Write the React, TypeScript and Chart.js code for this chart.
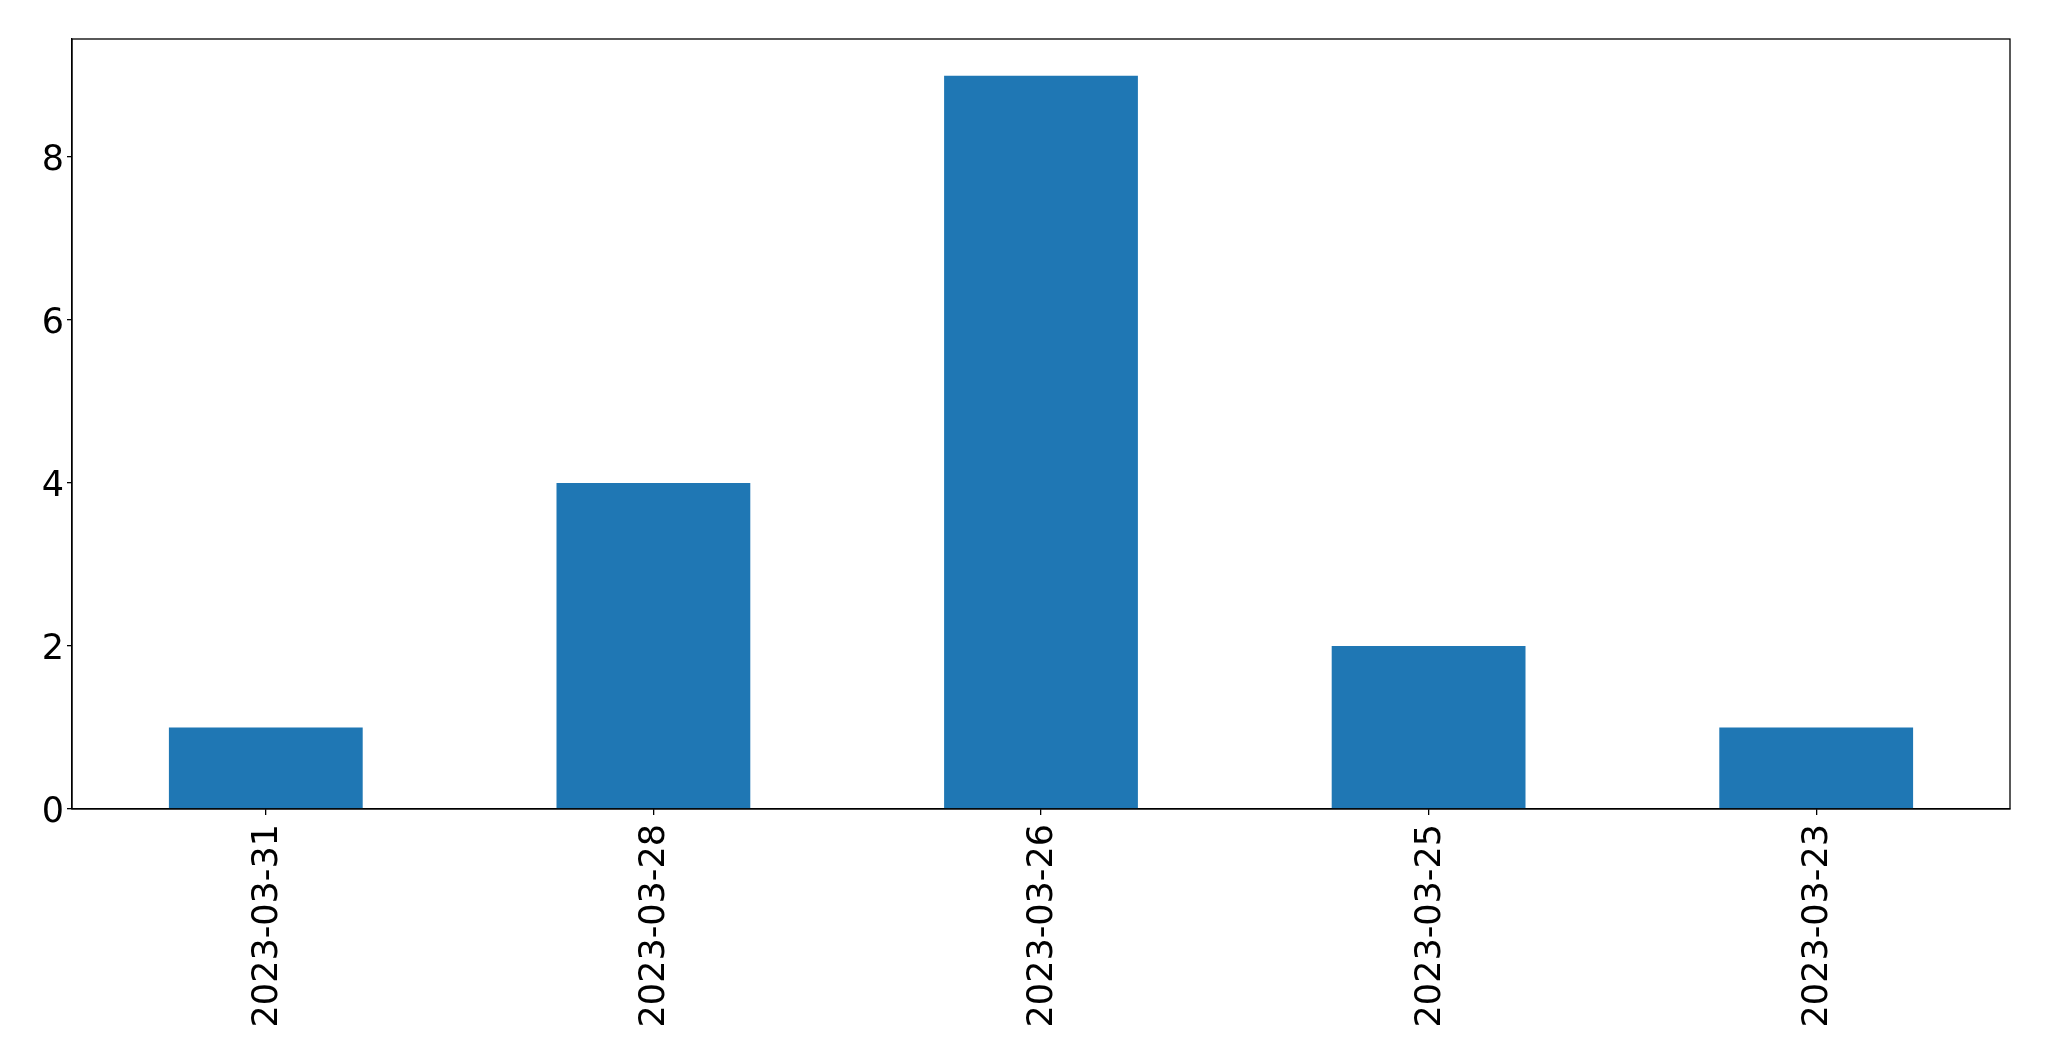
import React, { useEffect, useRef } from "react";
import { Chart, registerables } from "chart.js";

Chart.register(...registerables);

const categories = ["2023-03-31", "2023-03-28", "2023-03-26", "2023-03-25", "2023-03-23"];
const counts = [1, 4, 9, 2, 1];
const yTicks = [0, 2, 4, 6, 8];

const frame = {
  id: "frame",
  afterDraw(chart: any) {
    const { ctx, chartArea } = chart;
    ctx.save();
    ctx.strokeStyle = "#000";
    ctx.lineWidth = 1.3;
    ctx.strokeRect(chartArea.left, chartArea.top, chartArea.right - chartArea.left, chartArea.bottom - chartArea.top);
    ctx.restore();
  },
};

export default function App() {
  const ref = useRef<HTMLCanvasElement | null>(null);
  useEffect(() => {
    if (!ref.current) return;
    const font = { family: "'DejaVu Sans', sans-serif", size: 35 };
    const chart = new Chart(ref.current, {
      type: "bar",
      data: {
        labels: categories,
        datasets: [
          {
            data: counts,
            backgroundColor: "#1f77b4",
            categoryPercentage: 1,
            barPercentage: 0.5,
          },
        ],
      },
      options: {
        animation: false,
        responsive: false,
        maintainAspectRatio: false,
        layout: { padding: { left: 0, top: 39, right: 39, bottom: 0 } },
        plugins: { legend: { display: false }, tooltip: { enabled: false } },
        scales: {
          x: {
            offset: true,
            grid: { display: true, offset: false, drawOnChartArea: false, drawTicks: true, tickLength: 6, color: "#000", lineWidth: 1.3 },
            border: { display: true, color: "#000", width: 1.3 },
            ticks: { color: "#000", font, maxRotation: 90, minRotation: 90, padding: 9, autoSkip: false, labelOffset: 2 },
            afterFit: (s: any) => {
              s.height = 252;
            },
          },
          y: {
            min: 0,
            max: 9.45,
            afterBuildTicks: (s: any) => {
              s.ticks = yTicks.map((v) => ({ value: v }));
            },
            grid: { display: true, drawOnChartArea: false, drawTicks: true, tickLength: 5, color: "#000", lineWidth: 1.3 },
            border: { display: true, color: "#000", width: 1.3 },
            ticks: { color: "#000", font, padding: 3, labelOffset: 4 },
            afterFit: (s: any) => {
              s.width = 72;
            },
          },
        },
      },
      plugins: [frame],
    });
    return () => chart.destroy();
  }, []);
  return (
    <div style={{ position: "fixed", left: 0, top: 0, width: 2049, height: 1061, background: "#fff" }}>
      <canvas ref={ref} width={2049} height={1061} style={{ width: 2049, height: 1061, display: "block" }} />
    </div>
  );
}
